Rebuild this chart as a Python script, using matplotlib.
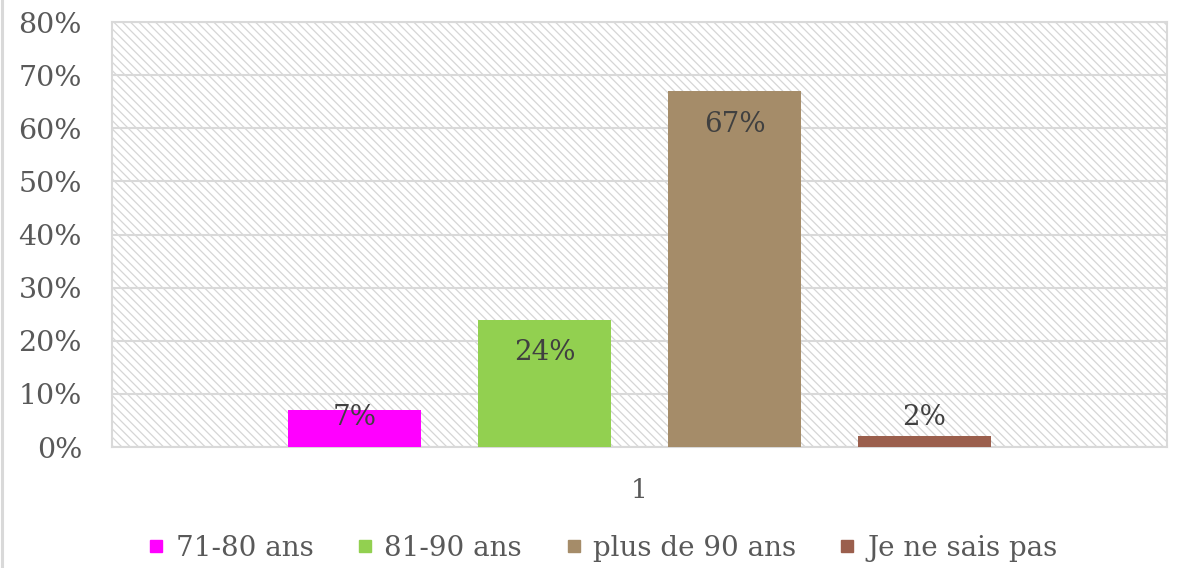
import matplotlib
matplotlib.use("Agg")
import matplotlib.pyplot as plt
from matplotlib.patches import Rectangle
from matplotlib.lines import Line2D

categories = ["1"]
series = ["71-80 ans", "81-90 ans", "plus de 90 ans", "Je ne sais pas"]
values = [7, 24, 67, 2]
colors = ["#ff00ff", "#92d050", "#a58c69", "#9b5f4d"]
yticks = [0, 10, 20, 30, 40, 50, 60, 70, 80]

plt.rcParams['font.family'] = ['DejaVu Serif']
plt.rcParams['hatch.linewidth'] = 0.9
plt.rcParams['hatch.color'] = '#d6d6d6'

txt = '#595959'
grid = '#d9d9d9'

fig = plt.figure(figsize=(11.78, 5.68), dpi=100)
ax = fig.add_axes([0.0951, 0.213, 0.8956, 0.7482])

ax.add_patch(Rectangle((0, 0), 1, 1, transform=ax.transAxes, facecolor='white',
                       edgecolor='#d6d6d6', linewidth=0, hatch='\\\\\\\\', zorder=0))

width = 0.126
step = 0.180
n = len(values)
for i, (lab, v, c) in enumerate(zip(series, values, colors)):
    x = (i - (n - 1) / 2) * step
    ax.bar(x, v, width=width, color=c, zorder=3, label=lab)
    ly = max(v - 6.2, 5.5)
    ax.text(x, ly, f"{v}%", ha='center', va='center', fontsize=20, color='#404040', zorder=4)

ax.set_xlim(-0.5, 0.5)
ax.set_ylim(0, 80)
ax.set_yticks(yticks)
ax.set_yticklabels([f"{t}%" for t in yticks], fontsize=20.5, color=txt)
ax.set_xticks([0])
ax.set_xticklabels(categories, fontsize=19, color=txt)
ax.tick_params(axis='both', length=0)
ax.tick_params(axis='y', pad=21.6)
ax.tick_params(axis='x', pad=22)
ax.grid(axis='y', color=grid, linewidth=1.5, zorder=1)
ax.set_axisbelow(True)
for s in ax.spines.values():
    s.set_color(grid)
    s.set_linewidth(1.5)

handles = [Line2D([0], [0], marker='s', linestyle='none', markersize=8,
                  markerfacecolor=c, markeredgecolor=c) for c in colors]
fig.legend(handles, series, loc='center', bbox_to_anchor=(0.511, 0.035), ncol=4,
           frameon=False, fontsize=20, labelcolor=txt, handletextpad=0.35,
           columnspacing=1.5, handlelength=0.7)

fig.add_artist(Line2D([0.0015, 0.0015], [0, 1], transform=fig.transFigure,
                      color=grid, linewidth=2.2))

fig.savefig("out.png", dpi=100)
